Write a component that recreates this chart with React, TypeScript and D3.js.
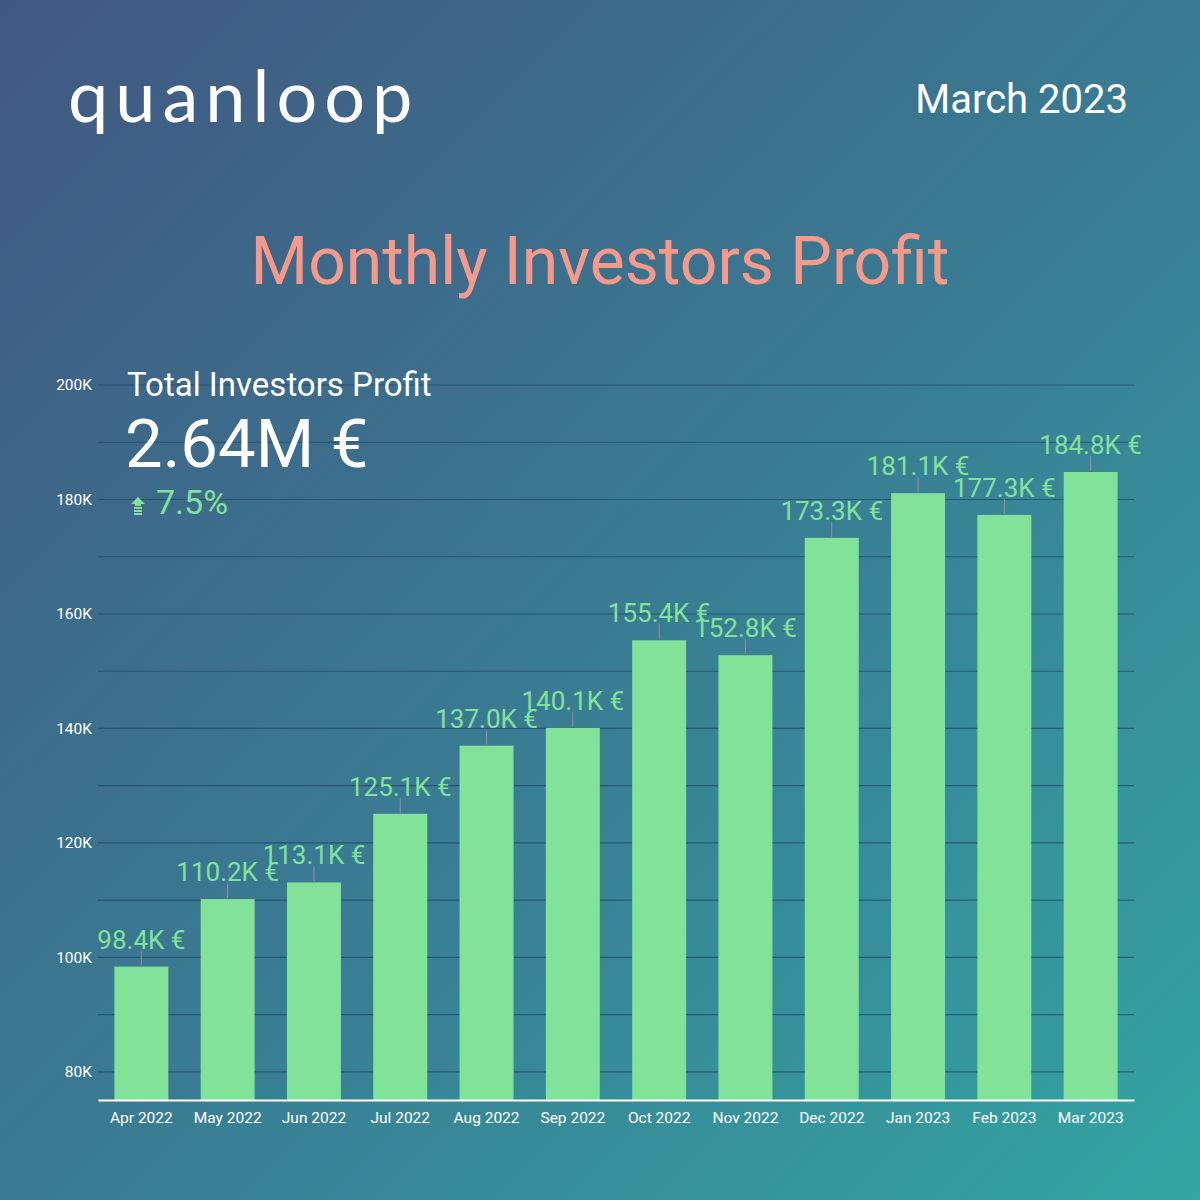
import React, { useEffect, useRef } from 'react';
import * as d3 from 'd3';

const months = ['Apr 2022', 'May 2022', 'Jun 2022', 'Jul 2022', 'Aug 2022', 'Sep 2022', 'Oct 2022', 'Nov 2022', 'Dec 2022', 'Jan 2023', 'Feb 2023', 'Mar 2023'];
const profitK = [98.4, 110.2, 113.1, 125.1, 137.0, 140.1, 155.4, 152.8, 173.3, 181.1, 177.3, 184.8];
const yTicks = [80, 100, 120, 140, 160, 180, 200];
const gridValues = [80, 90, 100, 110, 120, 130, 140, 150, 160, 170, 180, 190, 200];

const totalLabel = '2.64M €';
const growthLabel = '7.5%';

const W = 1200;
const H = 1200;

export default function App() {
  const ref = useRef<SVGSVGElement>(null);

  useEffect(() => {
    const svg = d3.select(ref.current);
    svg.selectAll('*').remove();
    const font = 'Roboto, sans-serif';

    // background gradient
    const defs = svg.append('defs');
    const grad = defs.append('linearGradient').attr('id', 'bg').attr('x1', '0').attr('y1', '0').attr('x2', '1').attr('y2', '1');
    grad.append('stop').attr('offset', '0%').attr('stop-color', '#415781');
    grad.append('stop').attr('offset', '50%').attr('stop-color', '#3a7a92');
    grad.append('stop').attr('offset', '100%').attr('stop-color', '#33a5a3');
    svg.append('rect').attr('width', W).attr('height', H).attr('fill', 'url(#bg)');

    // header
    svg.append('text').attr('x', 68).attr('y', 122).attr('fill', '#fff')
      .attr('font-family', 'Lato, sans-serif').attr('font-weight', 400).attr('font-size', 72)
      .attr('letter-spacing', 7).text('quanloop');
    svg.append('text').attr('x', 1128).attr('y', 113).attr('text-anchor', 'end').attr('fill', '#fff')
      .attr('font-family', font).attr('font-size', 40).text('March 2023');
    svg.append('text').attr('x', 600).attr('y', 284).attr('text-anchor', 'middle').attr('fill', '#f59a8b')
      .attr('font-family', font).attr('font-size', 66).text('Monthly Investors Profit');

    // chart
    const left = 98, right = 1134, bottom = 1100;
    const x = d3.scaleBand().domain(months).range([left, right]).paddingInner(0.375).paddingOuter(0.19);
    const y = d3.scaleLinear().domain([75.1, 200]).range([bottom, 385]);

    const g = svg.append('g');
    g.selectAll('.grid').data(gridValues).join('line').attr('class', 'grid')
      .attr('x1', left).attr('x2', right)
      .attr('y1', d => y(d)).attr('y2', d => y(d))
      .attr('stroke', '#234a6c').attr('stroke-opacity', 0.75).attr('stroke-width', 1.2);

    const yAxis = g.append('g').attr('transform', `translate(${left},0)`)
      .call(d3.axisLeft(y).tickValues(yTicks).tickSize(0).tickPadding(6).tickFormat(d => `${d}K`));
    yAxis.select('.domain').remove();
    yAxis.selectAll('text').attr('fill', '#fff').attr('font-family', font).attr('font-size', 15.5);

    g.selectAll('.bar').data(profitK).join('rect').attr('class', 'bar')
      .attr('x', (d, i) => x(months[i])!).attr('width', x.bandwidth())
      .attr('y', d => y(d)).attr('height', d => bottom - y(d))
      .attr('fill', '#82e29a');

    g.selectAll('.stem').data(profitK).join('line').attr('class', 'stem')
      .attr('x1', (d, i) => x(months[i])! + x.bandwidth() / 2)
      .attr('x2', (d, i) => x(months[i])! + x.bandwidth() / 2)
      .attr('y1', d => y(d) - 1).attr('y2', d => y(d) - 16)
      .attr('stroke', '#a38b98').attr('stroke-width', 1);

    g.selectAll('.val').data(profitK).join('text').attr('class', 'val')
      .attr('x', (d, i) => x(months[i])! + x.bandwidth() / 2)
      .attr('y', d => y(d) - 18).attr('text-anchor', 'middle')
      .attr('fill', '#82e29a').attr('font-family', font).attr('font-size', 26)
      .text(d => `${d.toFixed(1)}K €`);

    const xAxis = g.append('g').attr('transform', `translate(0,${bottom})`)
      .call(d3.axisBottom(x).tickSize(0).tickPadding(12));
    xAxis.select('.domain').attr('stroke', '#fff').attr('stroke-width', 2);
    xAxis.selectAll('text').attr('fill', '#fff').attr('font-family', font).attr('font-size', 15.5);

    // summary block
    svg.append('text').attr('x', 127).attr('y', 396).attr('fill', '#fff')
      .attr('font-family', font).attr('font-size', 33).text('Total Investors Profit');
    svg.append('text').attr('x', 125).attr('y', 467).attr('fill', '#fff')
      .attr('font-family', font).attr('font-size', 67).text(totalLabel);
    svg.append('text').attr('x', 156).attr('y', 514).attr('fill', '#82e29a')
      .attr('font-family', font).attr('font-size', 34).text(growthLabel);
    const icon = svg.append('g').attr('fill', '#82e29a').attr('transform', 'translate(138,497)');
    icon.append('path').attr('d', 'M0,0 L7,7 L3,7 L3,9 L-3,9 L-3,7 L-7,7 Z');
    [10, 13, 16].forEach(dy => icon.append('rect').attr('x', -4).attr('y', dy).attr('width', 8).attr('height', 2));
  }, []);

  return <svg ref={ref} width={W} height={H} style={{ display: 'block', position: 'absolute', top: 0, left: 0 }} />;
}
